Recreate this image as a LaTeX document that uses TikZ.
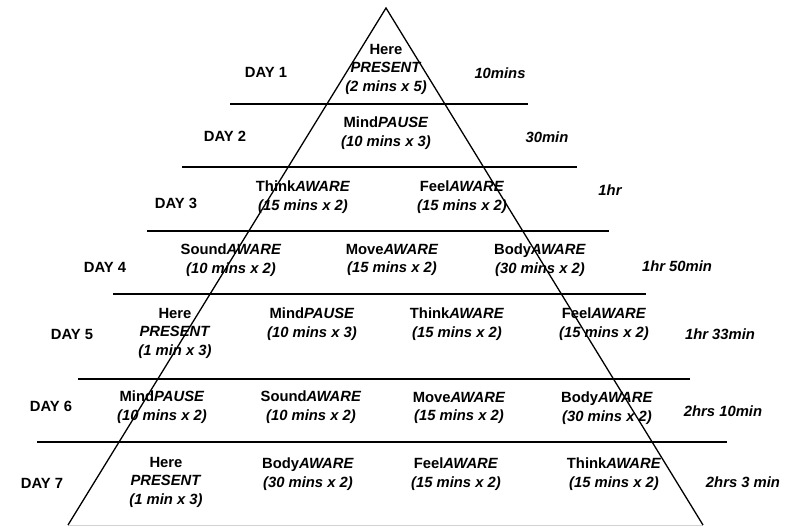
\documentclass[tikz,border=0pt]{standalone}
\usepackage{fontspec}
\setmainfont{Liberation Sans}
\usepackage{tikz}
\usetikzlibrary{positioning}

\begin{document}
\begin{tikzpicture}[
  x=1pt, y=-1pt,
  txt/.style={inner sep=0pt, align=center, font=\bfseries\fontsize{14.8}{18.5}\selectfont},
  day/.style={txt},
  total/.style={txt, font=\bfseries\itshape\fontsize{14.8}{18.5}\selectfont},
  rule/.style={line width=1.6pt},
]
  \useasboundingbox (0,0) rectangle (789,526);

  % pyramid
  \coordinate (apex) at (386,8);
  \coordinate (bl) at (68,525);
  \coordinate (br) at (703,525);
  \draw[gray!35, line width=1pt] (bl) -- (br);
  \draw[line width=1.3pt] (bl) -- (apex) -- (br);

  % row separators
  \draw[rule] (230,104) -- (528,104);
  \draw[rule] (182,167) -- (577,167);
  \draw[rule] (147,231) -- (609,231);
  \draw[rule] (113,294) -- (646,294);
  \draw[rule] (78,379) -- (690,379);
  \draw[rule] (37,442) -- (727,442);

  % days
  \node[day] (d1) at (266,72) {DAY 1};
  \node[day] (d2) at (225,136) {DAY 2};
  \node[day] (d3) at (176,203) {DAY 3};
  \node[day] (d4) at (105,267) {DAY 4};
  \node[day] (d5) at (72,334) {DAY 5};
  \node[day] (d6) at (51,406) {DAY 6};
  \node[day] (d7) at (42,483) {DAY 7};

  % day 1
  \node[txt] (a11) at (386,69) {Here\\\textit{PRESENT}\\\textit{(2 mins x 5)}};
  \node[total] (t1) at (500,73) {10mins};

  % day 2
  \node[txt] (a21) at (386,133) {Mind\textit{PAUSE}\\\textit{(10 mins x 3)}};
  \node[total] (t2) at (547,137) {30min};

  % day 3
  \node[txt] (a31) at (303,197) {Think\textit{AWARE}\\\textit{(15 mins x 2)}};
  \node[txt] (a32) at (462,197) {Feel\textit{AWARE}\\\textit{(15 mins x 2)}};
  \node[total] (t3) at (610,190) {1hr};

  % day 4
  \node[txt] (a41) at (231,260) {Sound\textit{AWARE}\\\textit{(10 mins x 2)}};
  \node[txt] (a42) at (392,260) {Move\textit{AWARE}\\\textit{(15 mins x 2)}};
  \node[txt] (a43) at (540,260) {Body\textit{AWARE}\\\textit{(30 mins x 2)}};
  \node[total] (t4) at (677,266) {1hr 50min};

  % day 5
  \node[txt] (a51) at (175,333) {Here\\\textit{PRESENT}\\\textit{(1 min x 3)}};
  \node[txt] (a52) at (312,324) {Mind\textit{PAUSE}\\\textit{(10 mins x 3)}};
  \node[txt] (a53) at (457,324) {Think\textit{AWARE}\\\textit{(15 mins x 2)}};
  \node[txt] (a54) at (604,324) {Feel\textit{AWARE}\\\textit{(15 mins x 2)}};
  \node[total] (t5) at (720,334) {1hr 33min};

  % day 6
  \node[txt] (a61) at (162,407) {Mind\textit{PAUSE}\\\textit{(10 mins x 2)}};
  \node[txt] (a62) at (311,407) {Sound\textit{AWARE}\\\textit{(10 mins x 2)}};
  \node[txt] (a63) at (459,408) {Move\textit{AWARE}\\\textit{(15 mins x 2)}};
  \node[txt] (a64) at (607,408) {Body\textit{AWARE}\\\textit{(30 mins x 2)}};
  \node[total] (t6) at (723,411) {2hrs 10min};

  % day 7
  \node[txt] (a71) at (166,482) {Here\\\textit{PRESENT}\\\textit{(1 min x 3)}};
  \node[txt] (a72) at (308,474) {Body\textit{AWARE}\\\textit{(30 mins x 2)}};
  \node[txt] (a73) at (456,474) {Feel\textit{AWARE}\\\textit{(15 mins x 2)}};
  \node[txt] (a74) at (614,474) {Think\textit{AWARE}\\\textit{(15 mins x 2)}};
  \node[total] (t7) at (743,482) {2hrs 3 min};
\end{tikzpicture}
\end{document}
